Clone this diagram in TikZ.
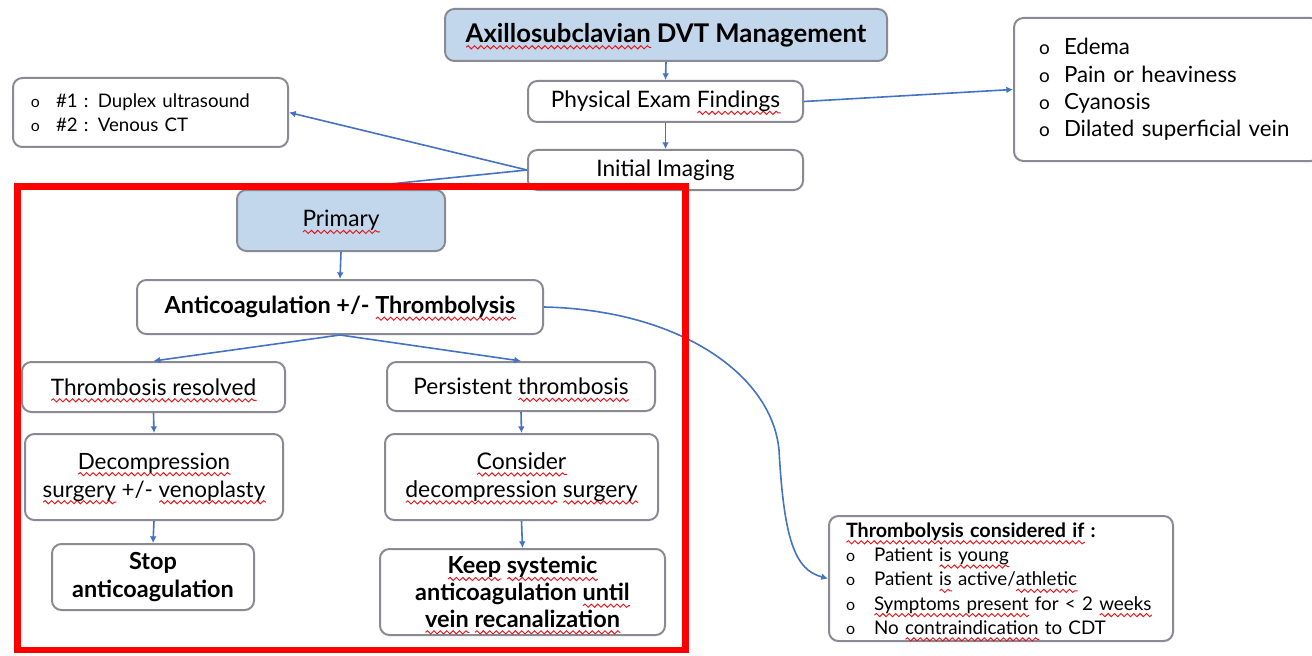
\documentclass[tikz,border=0pt]{standalone}
\usepackage{fontspec}
\setmainfont{Lato}
\usetikzlibrary{arrows.meta,decorations.pathmorphing}
\definecolor{boxgray}{HTML}{8A8A94}
\definecolor{lblue}{HTML}{C2D6EC}
\definecolor{arr}{HTML}{4472C4}
\definecolor{wavered}{HTML}{E8141B}
\definecolor{frame}{HTML}{FF0000}
\newsavebox\sqbox
\newcommand\sq[1]{\sbox\sqbox{#1}\rlap{\smash{\tikz[baseline=0pt,x=1pt,y=1pt,sharp corners,line cap=butt]\draw[wavered, fill=none, line width=0.7pt, decorate, decoration={snake, amplitude=1.2pt, segment length=4.8pt}] (0,-3.8) -- (\the\wd\sqbox,-3.8);}}\usebox\sqbox}
\newcommand\bul{\makebox[18.75pt][l]{\scalebox{0.85}{o}}}
\newcommand\bulb{\makebox[21pt][l]{\scalebox{0.85}{o}}}
\tikzset{
  box/.style={draw=boxgray, line width=1.5pt, rounded corners=7pt, fill=white,
    inner sep=0pt, align=center, font=\fontsize{17}{21}\selectfont},
  bbox/.style={box, font=\fontsize{17.6}{20.5}\selectfont\bfseries},
  sz/.style 2 args={minimum width=#1*0.75pt, minimum height=#2*0.75pt},
  conn/.style={draw=arr, line width=1.2pt, -{Latex[length=5pt,width=5pt]}},
  plain/.style={draw=arr, line width=1.2pt},
}
\begin{document}
\begin{tikzpicture}[x=0.75pt,y=-0.75pt]
\useasboundingbox (0,0) rectangle (1312,656);
\fill[white] (0,0) rectangle (1312,656);

% top part
\node[box, fill=lblue, sz={442}{52}, font=\fontsize{19.3}{21}\selectfont\bfseries] (title) at (666,35)
  {\sq{Axillosubclavian} DVT Management};
\node[box, sz={275}{41}] (phys) at (665.5,101.5) {Physical Exam \sq{Findings}};
\node[box, sz={275}{40}] (init) at (665.5,170) {Initial Imaging};
\node[box, minimum width=206.25pt, minimum height=51.75pt, anchor=north west,
  inner xsep=13.5pt, text width=179.25pt, align=left, font=\fontsize{14}{18}\selectfont] (imgl) at (12,77)
  {\bul\#1 : Duplex ultrasound\\\bul\#2 : Venous CT};
\node[box, minimum width=229.5pt, minimum height=107.25pt, anchor=north west,
  inner xsep=18.75pt, text width=192pt, align=left, font=\fontsize{16.7}{20.5}\selectfont] (symp) at (1013,17)
  {\bul Edema\\\bul Pain or heaviness\\\bul Cyanosis\\\bul Dilated superficial vein};

% primary branch
\node[box, fill=lblue, sz={208}{61}] (prim) at (341,220.5) {\sq{Primary}};
\node[bbox, sz={406}{54}] (anti) at (340,307)
  {Anticoagulation +/- \sq{Thrombolysis}};
\node[box, sz={263}{50}] (tres) at (153.5,387) {\sq{Thrombosis resolved}};
\node[box, sz={268}{49}] (pers) at (521,386.5) {Persistent \sq{thrombosis}};
\node[box, sz={258}{86}, font=\fontsize{16.8}{21}\selectfont] (deco) at (154,477) {\sq{Decompression}\\\sq{surgery} +/- \sq{venoplasty}};
\node[box, sz={273}{86}, font=\fontsize{17.2}{21}\selectfont] (cons) at (521.5,477) {\sq{Consider}\\\sq{decompression} \sq{surgery}};
\node[bbox, sz={202}{66}] (stop) at (153,577) {Stop\\anticoagulation};
\node[bbox, sz={285}{86}, font=\fontsize{17.6}{20}\selectfont\bfseries] (keep) at (522.5,592)
  {\sq{Keep} \sq{systemic}\\anticoagulation \sq{until}\\\sq{vein} \sq{recanalization}};

\node[box, minimum width=258pt, minimum height=93.75pt, anchor=north west,
  inner xsep=12.75pt, text width=232.5pt, align=left, font=\fontsize{14.1}{18.2}\selectfont] (thr) at (828,515)
  {{\fontsize{14.8}{18.2}\selectfont\bfseries\sq{Thrombolysis considered if} :}\\
   \bulb Patient \sq{is young}\\
   \bulb Patient \sq{is} active/\sq{athletic}\\
   \bulb \sq{Symptoms present} for < 2 \sq{weeks}\\
   \bulb No \sq{contraindication} to CDT};

% connectors
\draw[conn] (title.south) -- (phys.north);
\draw[conn] (phys.south) -- (init.north);
\draw[conn] (init.west) -- (imgl.east);
\draw[plain] (init.west) -- (prim.north);
\draw[conn] (phys.east) -- (symp.west);
\draw[conn] (prim.south) -- (anti.north);
\draw[conn] (anti.south) -- (tres.north);
\draw[conn] (anti.south) -- (pers.north);
\draw[conn] (tres.south) -- (deco.north);
\draw[conn] (deco.south) -- (stop.north);
\draw[conn] (pers.south) -- (cons.north);
\draw[conn] (cons.south) -- (keep.north);
\draw[conn] (anti.east) .. controls (680,310) and (772,375) .. (779,450)
  .. controls (784,540) and (795,570) .. (thr.west);

% red frame
\draw[frame, line width=5pt] (17.5,186.5) rectangle (685.5,650);
\end{tikzpicture}
\end{document}
